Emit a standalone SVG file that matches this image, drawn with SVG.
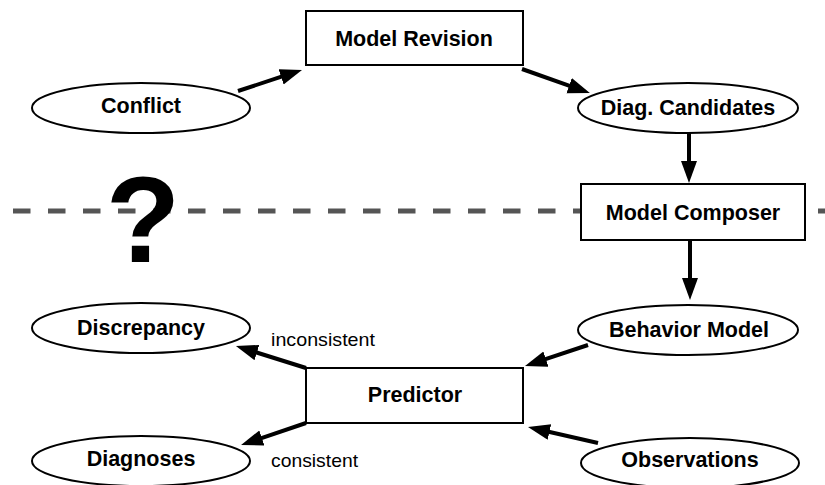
<svg xmlns="http://www.w3.org/2000/svg" width="825" height="485" viewBox="0 0 825 485">
<defs>
<style>
.box{fill:#fff;stroke:#000;stroke-width:2}
.ell{fill:#fff;stroke:#000;stroke-width:2}
.lbl{font-family:"Liberation Sans",Arial,sans-serif;font-weight:bold;font-size:21.5px;text-anchor:middle;fill:#000}
.small{font-family:"Liberation Sans",Arial,sans-serif;font-size:19px;fill:#000}
.arr{stroke:#000;stroke-width:4;fill:none;marker-end:url(#ah)}
.dash{stroke:#555;stroke-width:5;stroke-dasharray:17.5 17.5}
</style>
<marker id="ah" markerUnits="userSpaceOnUse" markerWidth="24" markerHeight="18" viewBox="0 0 24 18" refX="2" refY="8" orient="auto">
<path d="M0,0 L22,8 L0,16 Z" fill="#000"/>
</marker>
</defs>
<rect width="825" height="485" fill="#fff"/>
<line class="dash" x1="13" y1="211" x2="825" y2="211"/>
<text x="143" y="262" font-family="Liberation Sans,Arial,sans-serif" font-weight="bold" font-size="122" text-anchor="middle" fill="#000">?</text>
<g id="connectors">
<line class="arr" x1="238" y1="91" x2="283" y2="76.2"/>
<line class="arr" x1="522" y1="69" x2="571" y2="86.3"/>
<line class="arr" x1="689" y1="133" x2="689" y2="163"/>
<line class="arr" x1="690" y1="240" x2="690" y2="280"/>
<line class="arr" x1="588" y1="345" x2="544" y2="359.7"/>
<line class="arr" x1="598" y1="443" x2="547.5" y2="431.5"/>
<line class="arr" x1="306" y1="368" x2="255" y2="352"/>
<line class="arr" x1="306" y1="423" x2="260" y2="438.6"/>
<text class="small" x="271" y="346" textLength="104" lengthAdjust="spacingAndGlyphs">inconsistent</text>
<text class="small" x="271" y="467" textLength="87" lengthAdjust="spacingAndGlyphs">consistent</text>
</g>
<g id="model-revision">
<rect class="box" x="306" y="11" width="217" height="54"/>
<text class="lbl" x="414" y="46">Model Revision</text>
</g>
<g id="conflict">
<ellipse class="ell" cx="141" cy="108" rx="109" ry="25"/>
<text class="lbl" x="141" y="113">Conflict</text>
</g>
<g id="diag-candidates">
<ellipse class="ell" cx="688" cy="108" rx="110" ry="25"/>
<text class="lbl" x="688" y="115">Diag. Candidates</text>
</g>
<g id="model-composer">
<rect class="box" x="581" y="184" width="224" height="56"/>
<text class="lbl" x="693" y="220">Model Composer</text>
</g>
<g id="behavior-model">
<ellipse class="ell" cx="688" cy="330" rx="110" ry="25"/>
<text class="lbl" x="689" y="337">Behavior Model</text>
</g>
<g id="predictor">
<rect class="box" x="306" y="368" width="217" height="55"/>
<text class="lbl" x="415" y="402">Predictor</text>
</g>
<g id="discrepancy">
<ellipse class="ell" cx="141" cy="328" rx="109" ry="25"/>
<text class="lbl" x="141" y="335">Discrepancy</text>
</g>
<g id="diagnoses">
<ellipse class="ell" cx="141" cy="461" rx="109" ry="25"/>
<text class="lbl" x="141" y="466">Diagnoses</text>
</g>
<g id="observations">
<ellipse class="ell" cx="690" cy="463" rx="109" ry="25"/>
<text class="lbl" x="690" y="467">Observations</text>
</g>
</svg>
